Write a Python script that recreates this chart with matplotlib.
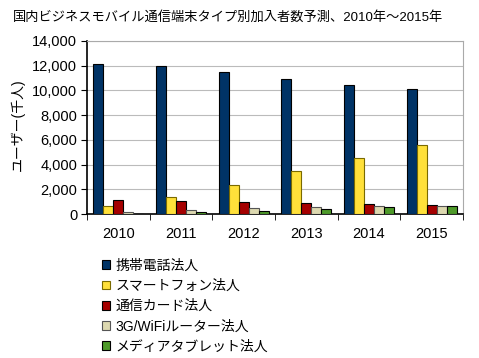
import matplotlib
matplotlib.use('Agg')
import matplotlib.pyplot as plt
import numpy as np

plt.rcParams['font.family'] = ['Liberation Sans', 'Noto Sans CJK JP']

# データ（千人）
years = ['2010', '2011', '2012', '2013', '2014', '2015']
keitai = [12100, 11950, 11480, 10900, 10440, 10090]
smartphone = [670, 1350, 2320, 3500, 4500, 5560]
card = [1110, 1030, 950, 870, 810, 730]
router = [140, 300, 460, 540, 620, 620]
tablet = [30, 190, 240, 380, 540, 650]

series = [keitai, smartphone, card, router, tablet]
labels = ['携帯電話法人', 'スマートフォン法人', '通信カード法人', '3G/WiFiルーター法人', 'メディアタブレット法人']
colors = ['#003366', '#FFE03A', '#A50000', '#DDD9B0', '#4E9A2A']
edges = ['#000000', '#7A6A00', '#000000', '#555555', '#000000']

fig = plt.figure(figsize=(4.79, 3.58), dpi=100)
ax = fig.add_axes([87/479, 1 - 214/358, 376/479, 173/358])

x = np.arange(len(years))
w = 0.16
for i, (vals, lab, c, ec) in enumerate(zip(series, labels, colors, edges)):
    ax.bar(x + (i - 2) * w, vals, w, color=c, edgecolor=ec, linewidth=0.8, label=lab, zorder=3)

ax.set_xlim(-0.5, len(years) - 0.5)
ax.set_ylim(0, 14000)
ax.set_yticks(range(0, 14001, 2000))
ax.set_yticklabels([f'{v:,}' for v in range(0, 14001, 2000)], fontsize=10.5)
ax.set_xticks(x)
ax.set_xticklabels(years, fontsize=10.5)
ax.tick_params(axis='x', length=0, pad=9)
ax.set_xticks(np.arange(-0.5, len(years)), minor=True)
ax.tick_params(axis='x', which='minor', length=4, direction='out')
ax.tick_params(axis='y', length=4, direction='out', pad=3)
ax.grid(axis='y', color='#BBBBBB', linewidth=0.8, zorder=0)

for s in ['top', 'right']:
    ax.spines[s].set_color('#AAAAAA')
ax.spines['left'].set_color('black')
ax.spines['bottom'].set_color('black')
ax.spines['left'].set_linewidth(1.2)
ax.spines['bottom'].set_linewidth(1.2)

fig.text(18/479, 1 - 125/358, 'ユーザー(千人)', rotation=90, ha='center', va='center', fontsize=10)
fig.text(13/479, 1 - 17/358, '国内ビジネスモバイル通信端末タイプ別加入者数予測、2010年～2015年',
         ha='left', va='center', fontsize=9.5)

fig.legend(loc='upper left', bbox_to_anchor=(96/479, 1 - 253/358), frameon=False,
           fontsize=10, handlelength=0.6, handleheight=0.6, handletextpad=0.4,
           labelspacing=0.45, borderaxespad=0)

fig.savefig('out.png', dpi=100)
